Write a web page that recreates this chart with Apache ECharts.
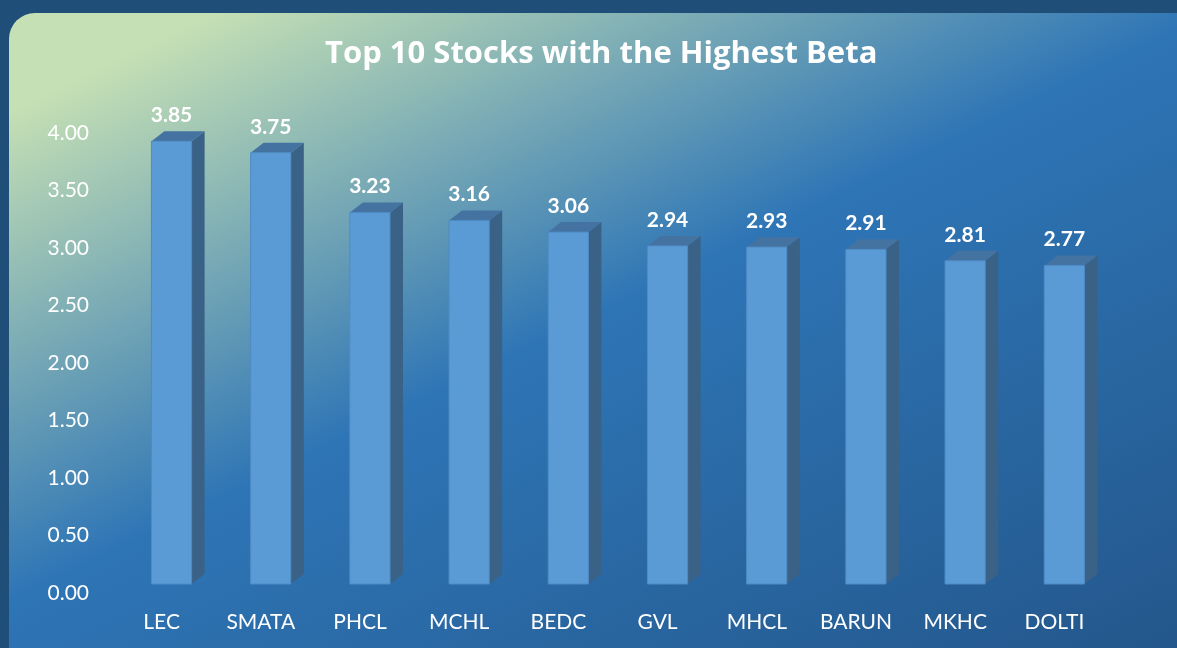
<!DOCTYPE html>
<html>
<head>
<meta charset="utf-8">
<style>
html,body{margin:0;padding:0;background:#1f4e79;}
#chart{width:1177px;height:648px;}
</style>
<script src="https://cdn.jsdelivr.net/npm/echarts@6/dist/echarts.min.js"></script>
</head>
<body>
<div id="chart"></div>
<script>
var titleText = 'Top 10 Stocks with the Highest Beta';
var categories = ['LEC','SMATA','PHCL','MCHL','BEDC','GVL','MHCL','BARUN','MKHC','DOLTI'];
var betaValues = [3.85, 3.75, 3.23, 3.16, 3.06, 2.94, 2.93, 2.91, 2.81, 2.77];
var yMin = 0, yMax = 4, yInterval = 0.5;

var FONT = 'Lato, "Open Sans", sans-serif';
var TITLE_FONT = '"Open Sans", Lato, sans-serif';
var chart = echarts.init(document.getElementById('chart'), null, {renderer:'canvas'});

var seriesData = betaValues.map(function(v, i){ return [i, v]; });

function renderBar(params, api){
  var i = api.value(0), v = api.value(1);
  var top = api.coord([i, v]);
  var base = api.coord([i, 0]);
  var band = api.size([1, 0])[0];
  var bw = band * 0.405;
  var off = band * 0.1;
  var dx = 13, dy = 10;
  var x0 = base[0] + off - bw / 2, x1 = x0 + bw;
  var yT = top[1], yB = base[1];
  return {
    type: 'group',
    children: [
      {type:'polygon', shape:{points:[[x1,yT],[x1+dx,yT-dy],[x1+dx,yB-dy],[x1,yB]]},
       style:{fill:'#3a6287'}},
      {type:'polygon', shape:{points:[[x0,yT],[x0+dx,yT-dy],[x1+dx,yT-dy],[x1,yT]]},
       style:{fill:'#4473a1'}},
      {type:'rect', shape:{x:x0, y:yT, width:bw, height:yB-yT},
       style:{fill:'#5b9bd5', stroke:'#4e8bc6', lineWidth:1}},
      {type:'text', x: x0 + bw/2, y: yT - 26,
       style:{text: v.toFixed(2), fill:'#ffffff', font:'bold 21px ' + FONT,
              align:'center', verticalAlign:'middle'}}
    ]
  };
}

var option = {
  backgroundColor: '#1f4e79',
  animation: false,
  graphic: [{
    type: 'rect', z: -10,
    shape: {x: 9, y: 13, width: 1200, height: 700, r: 26},
    style: {
      fill: new echarts.graphic.LinearGradient(9, 13, 493, 1003, [
        {offset: 0, color: '#c5e0b4'},
        {offset: 0.08, color: '#c5e0b4'},
        {offset: 0.48, color: '#2e75b6'},
        {offset: 1, color: '#23568a'}
      ], true)
    }
  }],
  title: {
    text: titleText,
    left: 320, top: 34,
    textStyle: {color:'#ffffff', fontFamily: TITLE_FONT, fontWeight:'bold', fontSize: 31}
  },
  grid: {left: 112, right: 73, top: 124, bottom: 64, containLabel: false},
  xAxis: {
    type: 'category',
    data: categories,
    axisLine: {show:false}, axisTick: {show:false}, splitLine:{show:false},
    axisLabel: {color:'#ffffff', fontFamily: FONT, fontSize: 21, margin: 28}
  },
  yAxis: {
    type: 'value', min: yMin, max: yMax, interval: yInterval,
    axisLine: {show:false}, axisTick: {show:false}, splitLine: {show:false},
    axisLabel: {color:'#ffffff', fontFamily: FONT, fontSize: 21, margin: 23,
                verticalAlign: 'top', lineHeight: 18,
                formatter: function(v){ return v.toFixed(2); }}
  },
  series: [{
    type: 'custom',
    renderItem: renderBar,
    data: seriesData,
    encode: {x: 0, y: 1},
    clip: false
  }]
};
chart.setOption(option);
</script>
</body>
</html>
